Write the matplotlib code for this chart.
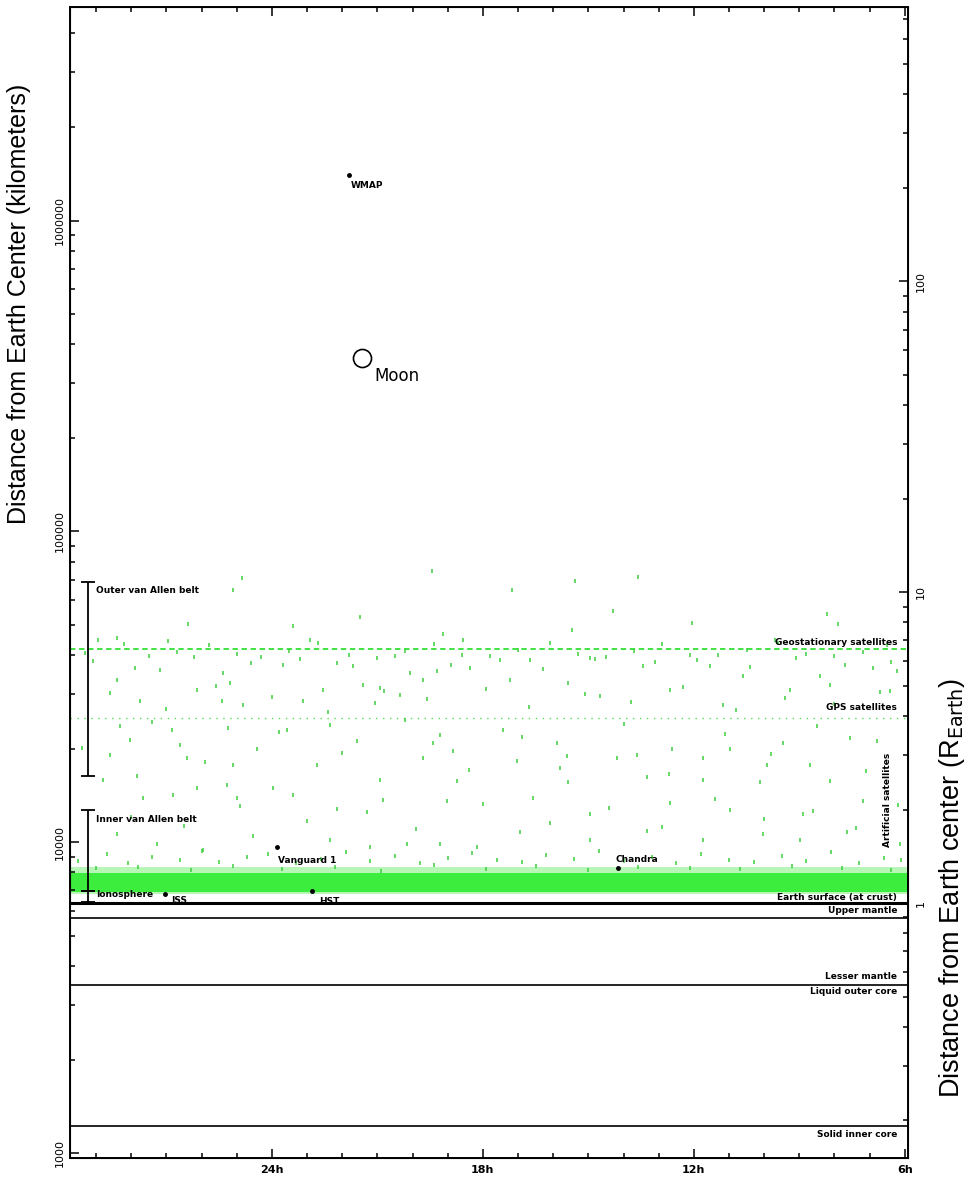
import matplotlib
matplotlib.use("Agg")
import matplotlib.pyplot as plt
from matplotlib.ticker import FixedLocator, MultipleLocator, LogLocator, NullFormatter, FuncFormatter

R_EARTH = 6371.0

# scattered satellites: right ascension (hours) and distance from Earth centre (km)
sat_ra = [19.45, 24.85, 25.11, 21.50, 26.39, 23.40, 28.95, 28.41, 26.96, 22.92, 19.14, 18.57,
          27.18, 25.39, 23.69, 22.15, 20.08, 19.31, 18.37, 28.41, 26.13, 25.19, 22.55, 21.41,
          20.93, 19.71, 27.75, 25.42, 24.82, 23.12, 21.07, 20.36, 28.32, 26.84, 25.25, 23.57,
          22.35, 19.22, 28.04, 26.62, 24.43, 21.58, 19.42, 28.61, 26.42, 25.11, 22.72, 19.71,
          18.85, 28.81, 27.84, 26.13, 25.28, 23.97, 20.93, 18.74, 27.67, 26.81, 25.00, 23.40,
          22.15, 20.84, 19.02, 28.41, 27.27, 25.96, 24.54, 22.35, 21.21, 20.16, 19.22, 18.17,
          15.38, 13.59, 17.18, 14.30, 8.22, 12.06, 15.47, 7.91, 9.70, 16.66, 14.96, 13.45,
          11.55, 10.61, 8.42, 6.91, 6.23, 17.23, 15.58, 14.67, 12.68, 11.18, 9.27, 8.13,
          6.43, 17.43, 15.90, 14.19, 12.63, 10.98, 9.47, 7.57, 6.80, 17.03, 15.81, 13.62,
          11.75, 9.93, 8.70, 15.58, 13.34, 11.75, 10.12, 8.13, 16.58, 14.96, 12.68, 10.98,
          8.90, 7.20, 16.95, 14.96, 13.34, 11.75, 10.04, 8.99, 7.65, 6.14]
sat_km = [74500, 70700, 64700, 53000, 50300, 49600, 44800, 45400, 44400, 44800, 46800, 44800,
          35800, 35100, 37200, 37800, 35100, 35600, 36400, 33300, 30900, 32600, 30900, 32100,
          31400, 33300, 28500, 28500, 27700, 28500, 28100, 29800, 23700, 22900, 23400, 22900,
          23900, 22200, 21400, 20500, 19900, 21200, 20900, 19100, 18700, 17700, 17700, 18700,
          19700, 15900, 16400, 15000, 15300, 15000, 15900, 15800, 13900, 14200, 13900, 14200,
          12800, 13700, 13600, 10600, 9850, 9430, 10500, 10150, 9640, 9850, 9850, 9640,
          69200, 71500, 64700, 55400, 54200, 50700, 48200, 50300, 44800, 38600, 39100, 36900,
          36900, 34300, 34300, 36400, 35600, 33300, 32600, 29600, 30900, 27700, 30900, 32100,
          30700, 22900, 20900, 18700, 19900, 19900, 20900, 21700, 21200, 18300, 17400, 19100,
          18700, 17700, 17700, 15600, 16200, 15900, 15600, 15800, 13900, 12300, 13400, 12700,
          12300, 13600, 10800, 10150, 10900, 10150, 10600, 10150, 10800, 9850]

# a second, sparser pass over the same region
extra_ra = [29.1, 27.9, 26.2, 24.6, 23.2, 21.7, 20.5, 18.9, 17.5, 16.3, 14.8, 13.1, 11.9, 10.4,
            9.1, 7.7, 6.4, 28.6, 27.0, 25.6, 24.0, 22.4, 20.8, 19.6, 17.9, 16.7, 15.1, 13.8,
            12.3, 10.8, 9.4, 8.0, 6.7, 29.4, 27.4, 25.9, 23.8, 22.0, 20.2, 18.4, 16.9, 15.6,
            14.0, 12.7, 11.1, 9.8, 8.5, 7.1, 28.0, 26.5, 24.9, 23.0, 21.3, 19.9, 18.0, 16.1,
            14.4, 12.9, 11.4, 10.0, 8.6, 7.4, 6.2]
extra_km = [38200, 36300, 39400, 37600, 38900, 36800, 39600, 37300, 38500, 36200, 39000, 37900,
            38700, 36600, 39300, 37100, 38100, 30200, 26900, 31800, 29300, 26300, 30600, 28800,
            31100, 27300, 30000, 28300, 31600, 26700, 29100, 27900, 30400, 20100, 24300, 18100,
            22600, 19400, 24700, 17100, 21800, 18900, 24100, 16600, 22300, 19300, 23600, 16900,
            12100, 11300, 13100, 11700, 12500, 11000, 13300, 11500, 12900, 11200, 13800, 11900,
            12600, 11100, 13200]

# satellites just above the low-orbit band
fringe_ra = [29.5, 28.7, 28.1, 27.4, 26.6, 26.0, 25.5, 24.7, 24.1, 23.3, 22.6, 21.9, 21.2, 20.5,
             19.8, 19.0, 18.3, 17.6, 16.9, 16.2, 15.4, 14.7, 14.0, 13.2, 12.5, 11.8, 11.0, 10.3,
             9.5, 8.8, 8.1, 7.3, 6.6, 6.1, 29.0, 27.8, 26.3, 25.1, 23.7, 22.2, 20.9, 19.4,
             17.9, 16.5, 15.0, 13.6, 12.1, 10.7, 9.2, 7.8, 6.4]
fringe_km = [8700, 9200, 8550, 9000, 8800, 9400, 8650, 8950, 9150, 8600, 8850, 9300, 8700, 9050,
             8580, 8900, 9250, 8750, 8620, 9100, 8820, 9350, 8680, 8980, 8560, 9200, 8780, 8640,
             9050, 8720, 9300, 8600, 8900, 8750, 8250, 8350, 8150, 8400, 8200, 8300, 8100, 8450,
             8220, 8380, 8120, 8330, 8260, 8180, 8420, 8280, 8150]

# satellites scattered around the geostationary ring
geo_ra = [29.3, 28.2, 27.5, 26.7, 25.8, 25.0, 24.3, 23.5, 22.7, 21.8, 21.0, 20.2, 19.4, 18.6,
          17.8, 17.0, 16.1, 15.3, 14.5, 13.7, 12.9, 12.1, 11.3, 10.5, 9.6, 8.8, 8.0, 7.2, 6.5]
geo_km = [40500, 43500, 39800, 41000, 43200, 40200, 39500, 41300, 43800, 40000, 39300, 41200,
          43400, 40100, 39700, 41500, 43600, 40300, 39400, 41100, 43300, 40000, 39900, 41400,
          43700, 40400, 39600, 41000, 43100]

LEO_CORE = (6900, 7950)
LEO_FRINGE = (6830, 8350)
GEO_KM = 41900
GPS_KM = 25200

# named objects: right ascension (h), distance (km), label offset (pt)
obj_names = ["WMAP", "Vanguard 1", "ISS", "HST", "Chandra"]
obj_ra = [21.81, 23.86, 27.05, 22.87, 14.16]
obj_km = [1.40e6, 9640, 6810, 6965, 8250]
obj_off = [(1.5, -4), (0.7, -6), (5, -1), (5.5, -4), (-2, 9.5)]

moon_ra, moon_km = 21.44, 361000

# layer boundaries (km)
surface_km = 6371
layer_km = [5720, 3480, 1220]

# bracketed regions (km)
belts = [("Outer van Allen belt", 16400, 69000, 64700),
         ("Inner van Allen belt", 6965, 12700, 11850),
         ("Ionosphere", 6420, 6965, 6810)]

y_lo, y_hi = 965, 4.85e6
x_lo, x_hi = 29.74, 5.91

small = dict(family=["Liberation Sans Narrow", "DejaVu Sans"], fontweight="bold", fontsize=6.5)
dot = dict(ls="none", marker="|", ms=3.5, mew=1.1, color="#3ccf3c")

fig = plt.figure(figsize=(9.71, 11.79), dpi=100)
ax = fig.add_axes([0.0721, 0.0178, 0.863, 0.976])
ax.set_yscale("log")
ax.set_xlim(x_lo, x_hi)
ax.set_ylim(y_lo, y_hi)

# low earth orbit band
ax.axhspan(LEO_FRINGE[0], LEO_FRINGE[1], facecolor="#b8f6b8", lw=0)
ax.axhspan(LEO_CORE[0], LEO_CORE[1], facecolor="#3ded3d", lw=0)

ax.axhline(GEO_KM, color="#33e033", lw=1.3, ls=(0, (3, 2)))
ax.axhline(GPS_KM, color="#55dd55", lw=1.0, ls=(0, (1, 4)))

ax.plot(sat_ra, sat_km, **dot)
ax.plot(extra_ra, extra_km, **dot)
ax.plot(fringe_ra, fringe_km, **dot)
ax.plot(geo_ra, geo_km, **dot)

# layers of the Earth
ax.axhline(surface_km, color="black", lw=2.2)
for k in layer_km:
    ax.axhline(k, color="black", lw=1.2)

ytr = ax.get_yaxis_transform()
for name, lo, hi, ylab in belts:
    ax.vlines(0.0215, lo, hi, transform=ytr, color="black", lw=1.3)
    ax.hlines([lo, hi], 0.013, 0.030, transform=ytr, color="black", lw=1.3)
    ax.text(0.031, ylab, name, transform=ytr, va="center", ha="left", **small)

# named objects
ax.plot(obj_ra, obj_km, ls="none", marker="o", ms=2.5, color="black")
for name, ra, km, off in zip(obj_names, obj_ra, obj_km, obj_off):
    ax.annotate(name, (ra, km), xytext=off, textcoords="offset points",
                ha="left", va="top", **small)
ax.plot([moon_ra], [moon_km], ls="none", marker="o", ms=13, mfc="none", mec="black", mew=1.2)
ax.annotate("Moon", (moon_ra, moon_km), xytext=(9, -13), textcoords="offset points",
            ha="left", va="center", fontsize=12, family="DejaVu Sans")

# right-hand labels
right_labels = [("Geostationary satellites", 43800), ("GPS satellites", 27100),
                ("Earth surface (at crust)", 6620), ("Upper mantle", 6050),
                ("Lesser mantle", 3695), ("Liquid outer core", 3300),
                ("Solid inner core", 1150)]
for name, km in right_labels:
    ax.text(0.987, km, name, transform=ytr, ha="right", va="center", **small)
ax.text(0.976, 13740, "Artificial satellites", transform=ytr, ha="center", va="center",
        rotation=90, **small)

# axes, ticks
ax.xaxis.set_major_locator(FixedLocator([24, 18, 12, 6]))
ax.xaxis.set_major_formatter(FuncFormatter(lambda v, p: "%dh" % round(v)))
ax.xaxis.set_minor_locator(MultipleLocator(1))
ax.yaxis.set_major_locator(LogLocator(base=10))
ax.yaxis.set_minor_locator(LogLocator(base=10, subs=range(2, 10)))
ax.yaxis.set_major_formatter(FuncFormatter(lambda v, p: "%d" % round(v)))
ax.yaxis.set_minor_formatter(NullFormatter())
ax.tick_params(which="both", direction="in", top=True, right=False, width=1.1)
ax.tick_params(which="major", length=6.5)
ax.tick_params(which="minor", length=3.5)
ax.tick_params(axis="y", labelrotation=90, labelsize=8, pad=4)
ax.tick_params(axis="x", labelsize=8, pad=5)
for lab in ax.get_yticklabels():
    lab.set_va("center")
for lab in ax.get_xticklabels():
    lab.set_fontweight("bold")
    lab.set_family(["Liberation Sans Narrow", "DejaVu Sans"])
for s in ax.spines.values():
    s.set_linewidth(1.4)

ax2 = ax.twinx()
ax2.set_yscale("log")
ax2.set_ylim(y_lo / R_EARTH, y_hi / R_EARTH)
ax2.yaxis.set_major_locator(LogLocator(base=10))
ax2.yaxis.set_minor_locator(LogLocator(base=10, subs=range(2, 10)))
ax2.yaxis.set_major_formatter(FuncFormatter(lambda v, p: "%d" % round(v)))
ax2.yaxis.set_minor_formatter(NullFormatter())
ax2.tick_params(which="both", direction="in", width=1.1)
ax2.tick_params(which="major", length=6.5)
ax2.tick_params(which="minor", length=3.5)
ax2.tick_params(axis="y", labelrotation=90, labelsize=8, pad=6)
for lab in ax2.get_yticklabels():
    lab.set_va("center")

ax.text(-0.061, 0.742, "Distance from Earth Center (kilometers)", transform=ax.transAxes,
        rotation=90, ha="center", va="center", fontsize=18, family="Liberation Sans")
ax.text(1.052, 0.235, r"Distance from Earth center (R$_{\mathrm{Earth}}$)", transform=ax.transAxes,
        rotation=90, ha="center", va="center", fontsize=19.5, family="Liberation Sans")

fig.savefig("out.png", dpi=100)
